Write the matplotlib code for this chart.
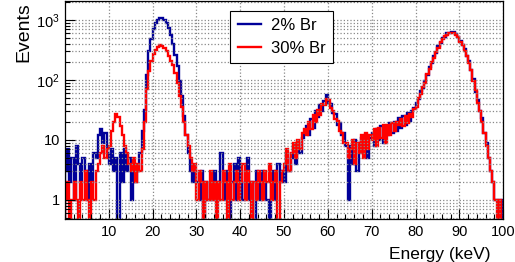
import numpy as np
import matplotlib
matplotlib.use("Agg")
import matplotlib.pyplot as plt
from matplotlib.ticker import FixedLocator, LogLocator, NullFormatter, MultipleLocator

plt.rcParams['font.family'] = ['Liberation Sans', 'DejaVu Sans']
plt.rcParams['mathtext.fontset'] = 'custom'
plt.rcParams['mathtext.rm'] = 'Liberation Sans'
plt.rcParams['mathtext.it'] = 'Liberation Sans'

# histogram binning (keV)
bin_edges = np.arange(0, 100.5, 0.5)

# counts per 0.5 keV bin, 2% Br
br2 = [
    3, 7, 2, 5, 1, 8, 4, 2, 5, 3,          # 0-5
    1, 4, 2, 6, 5, 12, 15, 9, 13, 6,       # 5-10
    4, 7, 3, 5, 0, 6, 2, 7, 3, 5,          # 10-15
    1, 4, 2, 3, 6, 14, 32, 120, 300, 480,  # 15-20
    700, 880, 1000, 1080, 1100, 1020, 880, 740, 560, 400,  # 20-25
    260, 170, 95, 55, 25, 12, 6, 3, 2, 3,  # 25-30
    2, 1, 3, 0, 2, 1, 2, 1, 3, 2,          # 30-35
    1, 6, 2, 1, 3, 0, 2, 4, 1, 5,          # 35-40
    2, 1, 3, 5, 1, 2, 0, 3, 2, 1,          # 40-45
    3, 2, 1, 0, 2, 3, 1, 4, 2, 3,          # 45-50
    2, 6, 3, 5, 8, 4, 9, 6, 11, 13,        # 50-55
    17, 12, 22, 16, 30, 24, 38, 30, 44, 56,  # 55-60
    42, 40, 28, 27, 18, 19, 12, 13, 8, 1,  # 60-65
    8, 4, 10, 3, 9, 11, 6, 12, 5, 11,      # 65-70
    13, 8, 15, 10, 17, 9, 16, 12, 19, 13,  # 70-75
    20, 14, 23, 16, 25, 18, 28, 21, 31, 34,  # 75-80
    42, 48, 65, 74, 98, 120, 166, 192, 248, 282,  # 80-85
    370, 420, 500, 530, 600, 615, 645, 625, 595, 520,  # 85-90
    455, 385, 325, 255, 205, 145, 104, 62, 47, 30,  # 90-95
    23, 13, 9, 5, 3, 2, 1, 1, 1, 1,        # 95-100
]

# counts per 0.5 keV bin, 30% Br
br30 = [
    1, 2, 0, 1, 2, 1, 0, 2, 1, 3,          # 0-5
    1, 0, 2, 1, 3, 4, 6, 8, 5, 7,          # 5-10
    8, 14, 20, 27, 24, 17, 12, 8, 6, 4,    # 10-15
    3, 5, 2, 4, 3, 7, 20, 70, 140, 210,    # 15-20
    270, 320, 350, 380, 370, 340, 300, 250, 210, 175,  # 20-25
    130, 90, 55, 35, 20, 12, 8, 5, 3, 4,   # 25-30
    1, 3, 2, 0, 2, 1, 3, 1, 2, 0,          # 30-35
    2, 1, 3, 2, 0, 4, 1, 2, 3, 1,          # 35-40
    2, 4, 1, 3, 2, 0, 2, 1, 3, 2,          # 40-45
    1, 3, 2, 4, 1, 2, 3, 0, 2, 3,          # 45-50
    4, 7, 3, 6, 9, 5, 10, 7, 13, 15,       # 50-55
    12, 20, 15, 26, 20, 32, 26, 40, 38, 48,  # 55-60
    46, 34, 31, 22, 21, 14, 13, 9, 9, 5,   # 60-65
    7, 10, 4, 9, 6, 12, 5, 13, 7, 12,      # 65-70
    10, 15, 8, 16, 11, 18, 9, 18, 12, 19,  # 70-75
    14, 20, 18, 22, 17, 25, 19, 27, 24, 33,  # 75-80
    36, 50, 58, 78, 90, 124, 150, 200, 230, 290,  # 80-85
    345, 425, 475, 535, 575, 615, 615, 612, 575, 525,  # 85-90
    438, 382, 306, 252, 192, 148, 96, 68, 42, 31,  # 90-95
    20, 13, 8, 5, 3, 2, 1, 0, 1, 0,        # 95-100
]

labels = ['2% Br', '30% Br']
colors = ['#000099', '#ff0000']

fig = plt.figure(figsize=(5.15, 2.62), dpi=100)
ax = fig.add_axes([0.126, 0.164, 0.851, 0.833])

for vals, lab, col in zip([br2, br30], labels, colors):
    v = np.clip(np.array(vals, dtype=float), 0.05, None)  # empty bins drawn down to the frame
    ax.stairs(v, bin_edges, color=col, lw=1.7, label=lab)

ax.set_yscale('log')
ax.set_xlim(0, 100)
ax.set_ylim(0.48, 2100)

ax.xaxis.set_major_locator(FixedLocator([10, 20, 30, 40, 50, 60, 70, 80, 90, 100]))
ax.xaxis.set_minor_locator(MultipleLocator(2))
ax.yaxis.set_major_locator(FixedLocator([1, 10, 100, 1000]))
ax.set_yticklabels(['1', '10', r'$10^{2}$', r'$10^{3}$'])
ax.yaxis.set_minor_locator(LogLocator(base=10, subs=np.arange(2, 10)))
ax.yaxis.set_minor_formatter(NullFormatter())

ax.grid(True, which='major', axis='x', ls=':', color='#888888', lw=0.9)
ax.grid(True, which='both', axis='y', ls=':', color='#888888', lw=0.9)

ax.tick_params(which='both', direction='in', labelsize=10.5, top=False, right=False)
ax.tick_params(which='major', length=7, width=0.8)
ax.tick_params(which='minor', length=3.5, width=0.8)
ax.tick_params(axis='x', pad=4)
for s in ax.spines.values():
    s.set_linewidth(0.9)

ax.set_xlabel('Energy (keV)', fontsize=12.5, ha='right')
ax.xaxis.set_label_coords(0.972, -0.13)
ax.set_ylabel('Events', fontsize=14, ha='right')
ax.yaxis.set_label_coords(-0.075, 0.995)

leg = ax.legend(loc='upper left', bbox_to_anchor=(0.377, 0.955), fontsize=12,
                frameon=True, fancybox=False, edgecolor='black', framealpha=1,
                handlelength=1.4, borderpad=0.45, labelspacing=0.45, handletextpad=0.6,
                borderaxespad=0)
leg.get_frame().set_linewidth(0.8)

fig.savefig('out.png', dpi=100)
